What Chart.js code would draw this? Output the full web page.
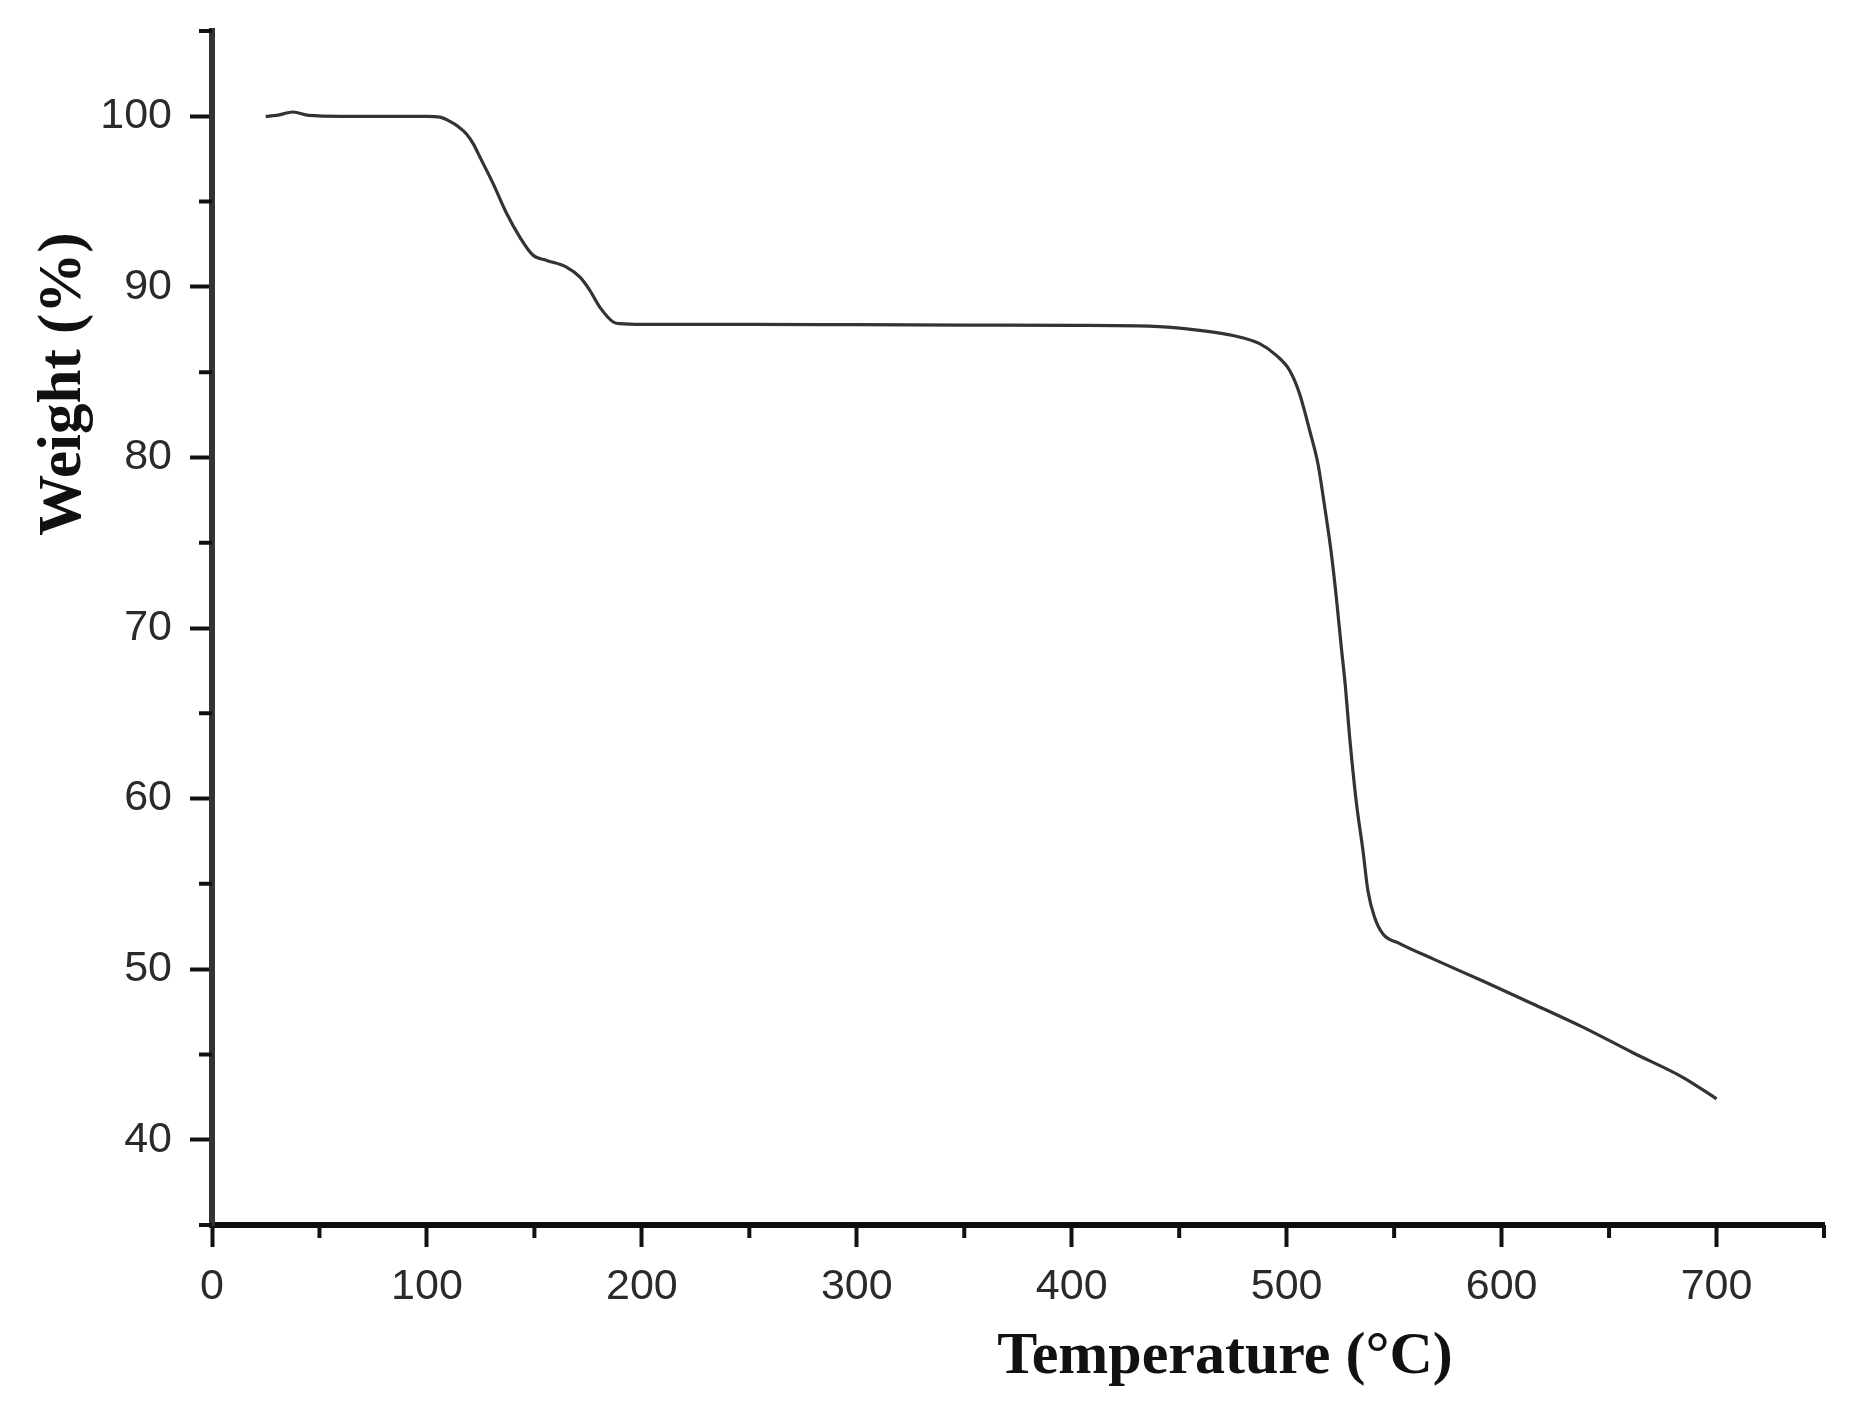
<!DOCTYPE html>
<html>
<head>
<meta charset="utf-8">
<script src="https://cdn.jsdelivr.net/npm/chart.js@4/dist/chart.umd.min.js"></script>
<style>
  html, body { margin: 0; padding: 0; background: #ffffff; }
  #wrap { width: 1850px; height: 1408px; position: relative; }
</style>
</head>
<body>
<div id="wrap"><canvas id="c" width="1850" height="1408"></canvas></div>
<script>
// ---- data ----
const temperature = [25, 30, 37.7, 45, 60, 80, 100, 106, 110.7, 114.5, 118.5, 121.5, 124.7, 130.8, 137.1, 143.3, 149.4, 155.7, 164.9, 171.2, 175.8, 180.5, 186.7, 190, 200, 250, 300, 350, 400, 436, 459.5, 475, 487.4, 495.2, 501.4, 506, 510.7, 514.6, 517.7, 520.8, 523.1, 525.4, 527.3, 529.3, 532.4, 535.5, 537.8, 540.9, 544.8, 552.6, 568.1, 591.3, 614.6, 637.8, 661.1, 684.3, 700];
const weight = [100.0, 100.05, 100.25, 100.05, 100.0, 100.0, 100.0, 99.95, 99.7, 99.4, 98.95, 98.4, 97.6, 96.05, 94.3, 92.9, 91.85, 91.55, 91.16, 90.57, 89.8, 88.8, 87.94, 87.84, 87.8, 87.8, 87.78, 87.76, 87.74, 87.7, 87.45, 87.15, 86.67, 85.98, 85.1, 83.74, 81.58, 79.6, 77.09, 74.35, 71.8, 68.9, 66.6, 63.6, 59.8, 56.95, 54.6, 53.04, 52.06, 51.5, 50.6, 49.3, 47.96, 46.6, 45.1, 43.66, 42.4];
const xTickLabels = ['0', '100', '200', '300', '400', '500', '600', '700'];
const yTickLabels = ['40', '50', '60', '70', '80', '90', '100'];
const xMinorTicks = [50, 150, 250, 350, 450, 550, 650, 750];
const yMinorTicks = [35, 45, 55, 65, 75, 85, 95, 105];
const xTitle = 'Temperature (°C)';
const yTitle = 'Weight (%)';

const points = temperature.map((t, i) => ({ x: t, y: weight[i] }));

const tickFont = { family: '"Liberation Sans", Arial, sans-serif', size: 43 };
const TICK_COLOR = '#2a2a2a';

const extrasPlugin = {
  id: 'extras',
  afterDraw(chart) {
    const ctx = chart.ctx;
    const xs = chart.scales.x, ys = chart.scales.y;
    const area = chart.chartArea;
    ctx.save();
    // minor ticks
    ctx.strokeStyle = '#111';
    ctx.lineWidth = 4;
    ctx.beginPath();
    xMinorTicks.forEach(v => {
      const px = xs.getPixelForValue(v);
      ctx.moveTo(px, area.bottom);
      ctx.lineTo(px, area.bottom + 13);
    });
    yMinorTicks.forEach(v => {
      const py = ys.getPixelForValue(v);
      ctx.moveTo(area.left, py);
      ctx.lineTo(area.left - 13, py);
    });
    ctx.stroke();
    // axis titles
    ctx.fillStyle = '#111';
    ctx.font = 'bold 60px "Liberation Serif", "Times New Roman", serif';
    ctx.textAlign = 'center';
    ctx.textBaseline = 'alphabetic';
    ctx.fillText(xTitle, area.left + 1013, area.bottom + 148);
    ctx.translate(80, area.top + 353);
    ctx.rotate(-Math.PI / 2);
    ctx.font = 'bold 61px "Liberation Serif", "Times New Roman", serif';
    ctx.fillText(yTitle, 0, 0);
    ctx.restore();
  }
};

new Chart(document.getElementById('c'), {
  type: 'line',
  data: {
    datasets: [{
      data: points,
      borderColor: '#333333',
      borderWidth: 3.2,
      pointRadius: 0,
      fill: false,
      cubicInterpolationMode: 'monotone'
    }]
  },
  options: {
    responsive: false,
    animation: false,
    events: [],
    layout: { padding: { top: 31, right: 26, left: 0, bottom: 0 } },
    plugins: { legend: { display: false }, tooltip: { enabled: false }, title: { display: false } },
    scales: {
      x: {
        type: 'linear',
        min: 0, max: 750,
        afterFit(scale) { scale.height = 183; scale.paddingLeft = 0; scale.paddingRight = 0; },
        afterBuildTicks(scale) { scale.ticks = xTickLabels.map(l => ({ value: Number(l) })); },
        ticks: {
          font: tickFont, color: TICK_COLOR, padding: 14, maxRotation: 0, autoSkip: false,
          callback: (v) => xTickLabels.includes(String(v)) ? String(v) : ''
        },
        grid: { display: true, drawOnChartArea: false, drawTicks: true, tickLength: 22, tickWidth: 4, tickColor: '#111' },
        border: { display: true, color: '#0d0d0d', width: 6 }
      },
      y: {
        type: 'linear',
        min: 35, max: 105,
        afterFit(scale) { scale.width = 212; scale.paddingTop = 0; scale.paddingBottom = 0; },
        afterBuildTicks(scale) { scale.ticks = yTickLabels.map(l => ({ value: Number(l) })); },
        ticks: {
          font: tickFont, color: TICK_COLOR, padding: 18, autoSkip: false,
          callback: (v) => yTickLabels.includes(String(v)) ? String(v) : ''
        },
        grid: { display: true, drawOnChartArea: false, drawTicks: true, tickLength: 22, tickWidth: 4, tickColor: '#111' },
        border: { display: true, color: '#333333', width: 6 }
      }
    }
  },
  plugins: [extrasPlugin]
});
</script>
</body>
</html>
